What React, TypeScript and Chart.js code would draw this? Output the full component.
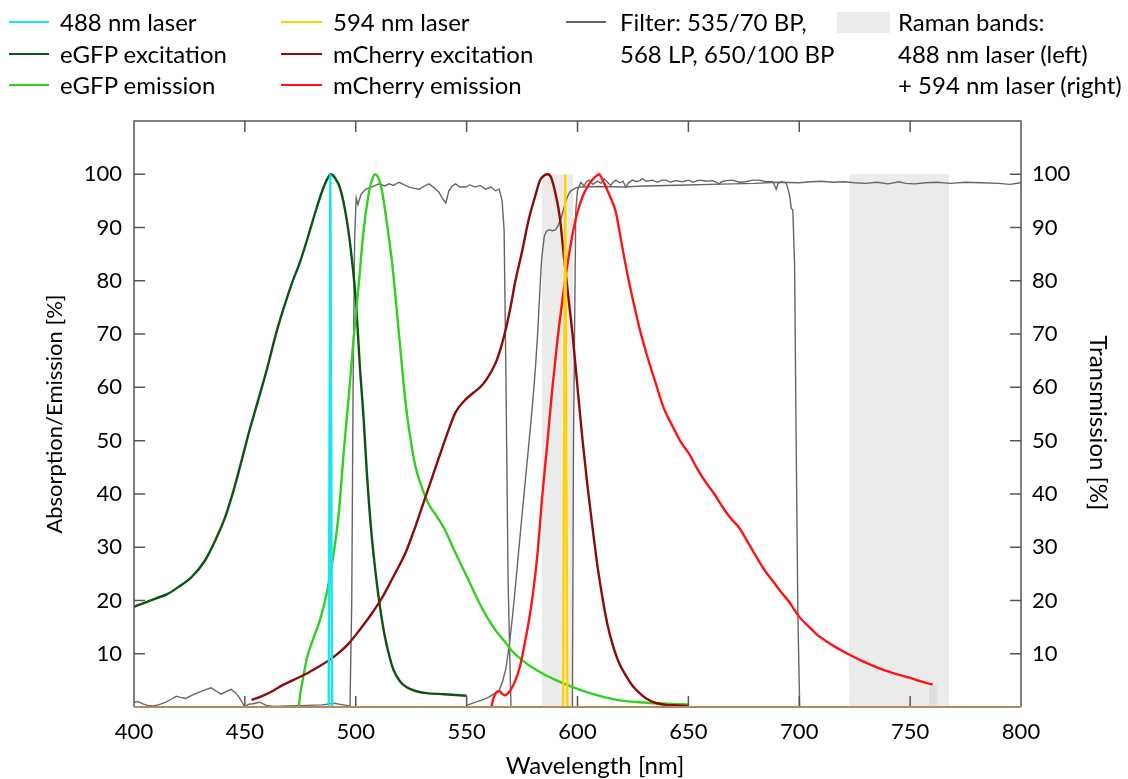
import React, { useEffect, useRef } from 'react';
import { Chart, registerables } from 'chart.js';
Chart.register(...registerables);

const FONT = 'Lato, "Noto Sans", sans-serif';

// ---- data: [wavelength nm, value %] ----
const laser488: number[][] = [[487.8, 0], [488.55, 100], [489.3, 0]];
const laser594: number[][] = [[593.5, 0], [594.45, 100], [595.4, 0]];

const egfpExcitation: number[][] = [
  [400, 18.8], [405, 19.6], [410, 20.4], [415, 21.2], [420, 22.5], [426, 24.4], [432, 27.5], [437, 31.6],
  [441, 35.5], [445, 40.8], [449, 47], [452, 51.8], [456, 57.6], [460, 63.5], [464, 70], [467, 74.2],
  [471, 79.3], [475, 83.7], [479, 89], [482, 93.2], [485, 97], [487, 99], [488.8, 100], [490.5, 99.4],
  [493, 97.3], [496, 91.3], [498, 85], [500, 76.5], [502, 63], [503.5, 54.5], [505, 44], [507, 33],
  [509, 25], [511, 18.6], [513, 13.5], [515, 9.8], [517, 7], [520, 4.8], [523, 3.7], [527, 3.0],
  [532, 2.6], [540, 2.4], [550, 2.1],
];

const egfpEmission: number[][] = [
  [474.3, 0], [475, 2.5], [476.5, 6], [478, 9.2], [481, 13], [484, 16.5], [487, 21.5], [490, 28.7],
  [492.5, 37], [494.5, 47.5], [497, 59], [499, 69], [501.5, 80], [503.5, 89.3], [505.5, 95.5], [507, 98.5],
  [508.8, 100], [510.5, 99], [512, 96.5], [514, 91], [516.5, 83], [519.5, 70], [522.5, 57], [525, 49.5],
  [527, 45], [530, 41], [533, 38], [537, 35.5], [540.5, 33], [544, 29.8], [548, 26.3], [552, 22.8],
  [555.5, 19.7], [559, 17], [563, 14.4], [567, 12.4], [570.5, 10.5], [575, 8.8], [580, 7.3], [585, 6.1],
  [590, 5.1], [595, 4.2], [600, 3.4], [605, 2.7], [610, 2.1], [615, 1.6], [620, 1.2], [628, 0.9],
  [640, 0.6], [650, 0.5],
];

const mcherryExcitation: number[][] = [
  [453, 1.3], [458, 2.1], [463, 3.1], [467, 4.1], [472, 5.1], [478, 6.3], [483, 7.5], [488, 8.8],
  [493, 10.4], [497, 12], [502, 14.6], [507, 17.4], [512, 20.6], [517, 24.5], [522.5, 29], [527, 34],
  [531.5, 39.5], [537.5, 46.8], [541, 51], [545, 55.3], [549, 57.5], [552.5, 58.8], [556, 60], [559, 61.5],
  [563, 64.5], [565.5, 67.5], [568, 71.5], [570, 75.5], [572, 80], [575, 85.5], [578, 91.5], [581, 96],
  [583, 98.8], [585, 99.8], [586.5, 100], [588, 99.5], [590, 96.5], [592, 92], [594, 84], [596, 76.5],
  [598, 69], [600, 60], [602.3, 50], [604.5, 41.5], [606.8, 33.6], [609, 26.5], [611.3, 20.4], [613.5, 15.5],
  [615.8, 11.8], [618.5, 8.5], [621.8, 5.9], [625, 3.9], [628, 2.6], [631, 1.6], [635, 0.8], [640, 0.4],
  [645, 0.3], [650, 0.2],
];

const mcherryEmission: number[][] = [
  [561.2, 0], [562, 1.5], [563.2, 2.6], [564.7, 3.0], [566, 2.5], [567.2, 2.2], [568.5, 2.5], [570, 3.3],
  [572, 5], [574, 7.5], [576, 11.5], [578, 16], [580, 21.5], [582, 29], [584.2, 40], [586.5, 50],
  [588.7, 60], [591, 69], [593.2, 76.4], [596, 84.5], [599.2, 91.6], [602, 95.5], [605, 98], [608, 99.5],
  [609.8, 100], [611, 99.2], [612.8, 97.6], [615, 95.5], [617.3, 92.9], [618.8, 89.6], [621, 84.5], [623.3, 79.7],
  [625.5, 75.5], [627.9, 71.2], [631, 66.5], [635.4, 60.6], [639, 56], [642.9, 52.7], [646.5, 49.8], [650.5, 47.4],
  [654, 44.7], [658, 42.1], [662, 39.8], [665.5, 37.5], [669, 35.5], [673, 33.6], [677, 30.8], [680.5, 28.3],
  [684, 25.9], [688, 23.7], [692, 21.5], [695.5, 19.7], [699.5, 17.2], [704.5, 15], [708, 13.6], [712, 12.4],
  [717, 11.1], [722.7, 9.8], [728, 8.7], [734.7, 7.5], [742, 6.4], [749.7, 5.5], [755, 4.8], [760.2, 4.2],
];

const filterBP535: number[][] = [
  [400, 0.9], [402, 1.0], [404, 0.6], [406, 0.3], [408.3, 0.2], [411, 0.4], [414.4, 0.9], [417, 1.5],
  [419, 2.0], [421, 1.8], [423.4, 1.6], [426, 2.2], [429.5, 2.8], [432, 3.2], [434.7, 3.6], [437, 3.0],
  [439.3, 2.4], [441.5, 2.9], [443.8, 3.3], [446, 2.6], [447.6, 1.7], [449, 0.7], [450, 0], [451.5, 0.5],
  [453.6, 0.6], [456.6, 0.9], [459.7, 0.3], [463, 0.1], [470, 0.2], [478, 0.3], [485, 0.4], [490, 0.7],
  [493, 0.5], [497.4, 0.2], [498.2, 20], [498.8, 60], [499.5, 88], [500.2, 95.6], [501, 94.3], [502.3, 96.2],
  [504.5, 97.2], [507, 97.6], [510.5, 98.2], [513, 97.8], [515, 98.2], [517, 97.9], [519.5, 98.5], [522, 98],
  [524, 97.6], [526, 97.4], [528.6, 97.2], [531, 97.8], [533, 98.2], [535, 97.6], [537.6, 96.6], [539, 95.5],
  [540.6, 94.6], [542, 96.9], [543.5, 97.8], [545, 98.2], [547, 97.6], [549.6, 97.6], [551.5, 98], [554, 97.6],
  [556, 97.9], [558.6, 97.2], [561, 97.6], [563, 96.9], [564.7, 97.2], [566, 95], [566.9, 89.6], [567.7, 63],
  [568.7, 23.7], [570, 0],
];

const filterLP568: number[][] = [
  [550, 0.3], [554, 0.9], [557, 1.3], [560.2, 1.9], [562.5, 2.5], [564.7, 3.2], [566.2, 4.8], [567.7, 7.2],
  [569.2, 11.5], [570.7, 17], [572.2, 23.5], [573.7, 30.3], [575.2, 37], [576.7, 43.5], [578.2, 50], [579.7, 56.7],
  [581, 63.5], [582, 69.9], [583, 78], [583.8, 84], [585, 88.3], [586, 89.3], [587.2, 89.6], [588.8, 89.4],
  [590.2, 89.6], [591.4, 90.5], [592.5, 91.6], [593.6, 93.3], [594.7, 95], [596, 96.3], [597, 96.9], [599, 97.4],
  [601, 97.6], [610, 97.7], [620, 97.6], [630, 97.8], [640, 97.9], [650, 98], [660, 98.1], [670, 98.2],
  [680, 98.3], [690, 98.5], [700, 98.4], [705, 98.6], [710, 98.7], [715, 98.5], [720, 98.6], [725, 98.4],
  [730, 98.3], [735, 98.5], [740, 98.2], [745, 98.6], [748, 98.3], [752, 98.2], [757, 98.4], [762, 98.5],
  [768, 98.3], [775, 98.5], [782, 98.4], [790, 98.3], [795, 98.1], [800, 98.4],
];

const filterBP650: number[][] = [
  [597.7, 0], [598.2, 50], [599.2, 93], [600, 97], [601.5, 98.5], [603, 97.8], [604, 98.6], [605.3, 98.9],
  [607, 98.1], [609, 98.7], [610.5, 98.3], [612, 99.2], [613.5, 98.5], [615, 97.9], [616.2, 98.6], [617.3, 98.9],
  [619, 98.4], [620.5, 98.7], [621.8, 97.6], [623, 98.4], [624.8, 98.9], [626.5, 98.6], [628, 98.8], [629.4, 99.2],
  [631, 98.7], [633.9, 98.9], [636, 98.5], [638, 98.9], [640, 98.9], [642, 98.5], [644, 98.8], [647.4, 98.6],
  [650, 98.9], [652, 98.5], [655, 98.9], [658, 98.7], [661, 98.8], [663, 98.4], [664, 98.2], [665, 98.6],
  [667, 98.8], [670, 98.9], [673, 98.5], [676, 98.6], [679, 98.9], [682, 98.9], [685, 98.6], [688, 98.6],
  [689, 97.8], [689.6, 97.2], [690.5, 98.3], [692, 98.6], [694.1, 98.4], [695.6, 96.2], [696.4, 93.6], [697.1, 93.3],
  [697.9, 83], [698.6, 50], [699.4, 17], [700.2, 0],
];

const ramanBand488: number[][] = [[584, 100], [598, 100]];
const ramanBand594: number[][] = [[722.5, 100], [767.5, 100]];
const ramanMarker: number[][] = [[758.5, 4], [762.3, 4]];

const xTickValues = [400, 450, 500, 550, 600, 650, 700, 750, 800];

const pts = (a: number[][]) => a.map(([x, y]) => ({ x, y }));

const COLORS = {
  cyan: '#14e6f2',
  yellow: '#ffd200',
  darkGreen: '#0b5413',
  lightGreen: '#33cf22',
  darkRed: '#8a0c0c',
  red: '#ff1414',
  filter: '#666666',
  raman: '#ebebeb',
};

const framePlugin = {
  id: 'frame',
  afterDatasetsDraw(chart: any) {
    const { ctx, chartArea, scales } = chart;
    const { left, right, top, bottom } = chartArea;
    ctx.save();
    ctx.lineWidth = 1.5;
    ctx.strokeStyle = '#555555';
    ctx.beginPath();
    ctx.moveTo(left, bottom);
    ctx.lineTo(left, top);
    ctx.lineTo(right, top);
    ctx.lineTo(right, bottom);
    for (const v of xTickValues) {
      const px = scales.x.getPixelForValue(v);
      ctx.moveTo(px, bottom);
      ctx.lineTo(px, bottom - 11);
      ctx.moveTo(px, top);
      ctx.lineTo(px, top + 11);
    }
    for (let v = 10; v <= 100; v += 10) {
      const py = scales.y.getPixelForValue(v);
      ctx.moveTo(left, py);
      ctx.lineTo(left + 11, py);
      ctx.moveTo(right, py);
      ctx.lineTo(right - 11, py);
    }
    ctx.stroke();
    ctx.strokeStyle = '#b38a5e';
    ctx.lineWidth = 2;
    ctx.beginPath();
    ctx.moveTo(left, bottom);
    ctx.lineTo(right, bottom);
    ctx.stroke();

    // axis titles
    ctx.fillStyle = '#000';
    ctx.textAlign = 'center';
    ctx.textBaseline = 'middle';
    ctx.font = `24px ${FONT}`;
    ctx.fillText('Wavelength [nm]', 595, 766);
    ctx.save();
    ctx.font = `22px ${FONT}`;
    ctx.translate(55, 414);
    ctx.rotate(-Math.PI / 2);
    ctx.fillText('Absorption/Emission [%]', 0, 0);
    ctx.restore();
    ctx.save();
    ctx.font = `24px ${FONT}`;
    ctx.translate(1098, 423);
    ctx.rotate(Math.PI / 2);
    ctx.fillText('Transmission [%]', 0, 0);
    ctx.restore();
    ctx.restore();
  },
};

function line(data: number[][], color: string, width: number, order: number, axis = 'y', smooth = false) {
  return {
    data: pts(data),
    borderColor: color,
    borderWidth: width,
    pointRadius: 0,
    fill: false,
    order,
    yAxisID: axis,
    cubicInterpolationMode: smooth ? 'monotone' : 'default',
    tension: 0,
  };
}

function band(data: number[][], color: string, order: number) {
  return {
    data: pts(data),
    borderWidth: 0,
    borderColor: 'rgba(0,0,0,0)',
    backgroundColor: color,
    pointRadius: 0,
    fill: 'origin',
    order,
    yAxisID: 'y',
  };
}

const tickFont = { family: FONT, size: 22 };

export default function App() {
  const ref = useRef<HTMLCanvasElement>(null);
  useEffect(() => {
    const chart = new Chart(ref.current as HTMLCanvasElement, {
      type: 'line',
      data: {
        datasets: [
          line(laser488, COLORS.cyan, 2.4, 1),
          line(laser594, COLORS.yellow, 2.4, 1),
          line(mcherryEmission, COLORS.red, 2.4, 2, 'y', true),
          line(mcherryExcitation, COLORS.darkRed, 2.4, 2, 'y', true),
          line(egfpEmission, COLORS.lightGreen, 2.4, 2, 'y', true),
          line(egfpExcitation, COLORS.darkGreen, 2.4, 2, 'y', true),
          line(filterBP535, COLORS.filter, 1.4, 5, 'y2'),
          line(filterLP568, COLORS.filter, 1.4, 5, 'y2'),
          line(filterBP650, COLORS.filter, 1.4, 5, 'y2'),
          band(ramanMarker, '#dedede', 9),
          band(ramanBand488, COLORS.raman, 10),
          band(ramanBand594, COLORS.raman, 10),
        ] as any,
      },
      options: {
        responsive: false,
        animation: false,
        devicePixelRatio: 1,
        layout: { padding: { top: 121, left: 0, right: 0, bottom: 0 } },
        plugins: { legend: { display: false }, tooltip: { enabled: false } },
        elements: { point: { radius: 0 } },
        scales: {
          x: {
            type: 'linear',
            min: 400,
            max: 800,
            position: 'bottom',
            afterFit: (s: any) => { s.height = 72; },
            grid: { display: false, drawTicks: false },
            border: { display: false },
            ticks: { stepSize: 50, padding: 12, color: '#000', font: tickFont, maxRotation: 0, autoSkip: false },
          },
          y: {
            type: 'linear',
            min: 0,
            max: 110,
            position: 'left',
            afterFit: (s: any) => { s.width = 134; },
            grid: { display: false, drawTicks: false },
            border: { display: false },
            ticks: {
              stepSize: 10, padding: 12, color: '#000', font: tickFont,
              callback: (v: any) => (v === 0 || v > 100 ? '' : String(v)),
            },
          },
          y2: {
            type: 'linear',
            min: 0,
            max: 110,
            position: 'right',
            afterFit: (s: any) => { s.width = 107; },
            grid: { display: false, drawTicks: false },
            border: { display: false },
            ticks: {
              stepSize: 10, padding: 11, color: '#000', font: tickFont,
              callback: (v: any) => (v === 0 || v > 100 ? '' : String(v)),
            },
          },
        },
      } as any,
      plugins: [framePlugin],
    });
    return () => chart.destroy();
  }, []);

  const textStyle: React.CSSProperties = {
    position: 'absolute', fontSize: 24, lineHeight: '31.5px', color: '#000', whiteSpace: 'pre', fontFamily: FONT,
  };
  const rowY = [22, 53.5, 85];
  const lineSample = (x: number, w: number, y: number, color: string, h = 2) => (
    <div style={{ position: 'absolute', left: x, top: y - h / 2, width: w, height: h, background: color }} />
  );

  return (
    <div style={{ position: 'fixed', left: 0, top: 0, width: 1128, height: 779, background: '#fff' }}>
      <canvas ref={ref} width={1128} height={779} style={{ position: 'absolute', left: 0, top: 0 }} />
      {lineSample(9, 40, rowY[0], COLORS.cyan)}
      {lineSample(9, 40, rowY[1], COLORS.darkGreen)}
      {lineSample(9, 40, rowY[2], COLORS.lightGreen)}
      <div style={{ ...textStyle, left: 60, top: rowY[0] - 15.75 }}>{'488 nm laser\neGFP excitation\neGFP emission'}</div>
      {lineSample(281, 41, rowY[0], COLORS.yellow)}
      {lineSample(281, 41, rowY[1], COLORS.darkRed)}
      {lineSample(281, 41, rowY[2], COLORS.red)}
      <div style={{ ...textStyle, left: 333, top: rowY[0] - 15.75 }}>{'594 nm laser\nmCherry excitation\nmCherry emission'}</div>
      {lineSample(566, 40, rowY[0], COLORS.filter, 1.4)}
      <div style={{ ...textStyle, left: 620, top: rowY[0] - 15.75 }}>{'Filter: 535/70 BP,\n568 LP, 650/100 BP'}</div>
      <div style={{ position: 'absolute', left: 837, top: 12, width: 53, height: 21, background: COLORS.raman }} />
      <div style={{ ...textStyle, left: 898, top: rowY[0] - 15.75 }}>{'Raman bands:\n488 nm laser (left)\n+ 594 nm laser (right)'}</div>
    </div>
  );
}
